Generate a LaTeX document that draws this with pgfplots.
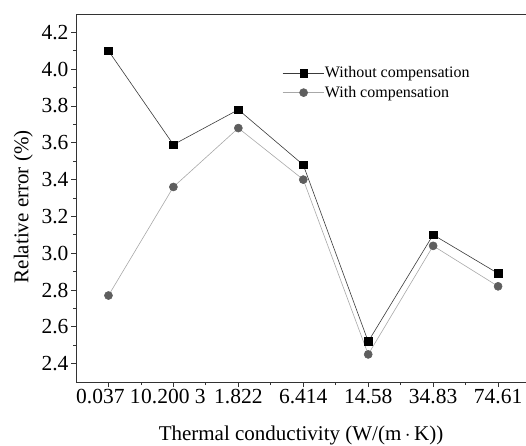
\documentclass[border=0pt]{standalone}
\usepackage{fontspec}
\setmainfont{Liberation Serif}
\usepackage{pgfplots}
\pgfplotsset{compat=1.18}
\definecolor{lineA}{HTML}{3A3A3A}
\definecolor{lineB}{HTML}{A8A8A8}
\definecolor{markB}{HTML}{5E5E5E}
\begin{document}
\begin{tikzpicture}
\useasboundingbox (0,0) rectangle (526pt,445pt);
\begin{axis}[
  at={(76pt,63pt)}, anchor=south west,
  scale only axis, width=450pt, height=368pt,
  xmin=-0.5, xmax=6.43, ymin=2.3, ymax=4.3,
  axis x line*=bottom, axis y line*=left,
  axis line style={-, line width=0.8pt, black!80},
  xtick={0,...,6},
  xticklabels={0.037 1, 0.200 3, 1.822, 6.414, 14.58, 34.83, 74.61},
  ytick={2.4,2.6,...,4.21},
  yticklabel style={xshift=1pt, /pgf/number format/fixed, /pgf/number format/fixed zerofill, /pgf/number format/precision=1},
  /pgf/number format/assume math mode=true,
  minor x tick num=1, minor y tick num=1,
  tick align=outside,
  major tick length=5pt, minor tick length=3pt,
  tick style={line width=0.8pt, black!80},
  ticklabel style={font=\fontsize{21.5}{24}\selectfont},
  xticklabel style={yshift=1pt},
  xlabel={Thermal conductivity (W/(m\,$\cdot$\,K))},
  ylabel={Relative error (\%)},
  xlabel style={yshift=-15pt},
  ylabel style={at={(ticklabel cs:0.476)}, yshift=2pt},
  label style={font=\fontsize{21}{24}\selectfont},
  legend style={draw=none, fill=none, at={(0.458,0.86)}, anchor=north west,
    font=\fontsize{16}{18}\selectfont, row sep=5pt, inner sep=0pt,
    legend cell align=left, nodes={inner sep=1pt}},
  legend image code/.code={
    \draw[#1] (0pt,0pt) -- (41pt,0pt);
    \draw[#1, only marks] plot coordinates {(21pt,0pt)};
  },
  after end axis/.code={\draw[line width=0.8pt, black!80] (rel axis cs:0,1) -- (rel axis cs:1,1);},
  clip=false,
]
\addplot[color=lineA, line width=0.6pt, mark=square*, mark size=3.8pt, mark options={fill=black, draw=black, solid}]
  coordinates {(0,4.10) (1,3.59) (2,3.78) (3,3.48) (4,2.52) (5,3.10) (6,2.89)};
\addlegendentry{Without compensation}
\addplot[color=lineB, line width=0.6pt, mark=*, mark size=4pt, mark options={fill=markB, draw=markB, solid}]
  coordinates {(0,2.77) (1,3.36) (2,3.68) (3,3.40) (4,2.45) (5,3.04) (6,2.82)};
\addlegendentry{With compensation}
\end{axis}
\end{tikzpicture}
\end{document}
